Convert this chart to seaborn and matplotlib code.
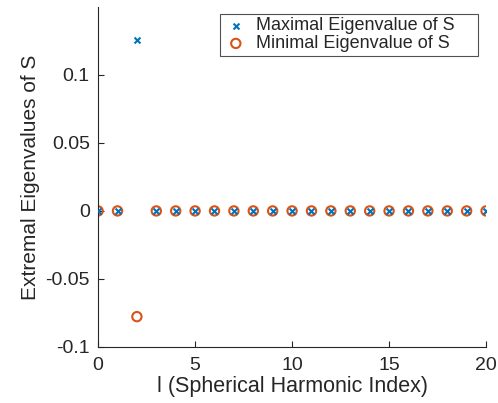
import numpy as np
import pandas as pd
import matplotlib
matplotlib.use("Agg")
import matplotlib.pyplot as plt
import seaborn as sns

l_index = list(range(21))
max_eig = [0, 0, 0.126] + [0] * 18
min_eig = [0, 0, -0.0777] + [0] * 18

sns.set_theme(style="ticks")
plt.rcParams['font.family'] = ['Liberation Sans', 'DejaVu Sans']
plt.rcParams['xtick.direction'] = 'in'
plt.rcParams['ytick.direction'] = 'in'

df = pd.DataFrame({'l': l_index, 'max': max_eig, 'min': min_eig})

fig = plt.figure(figsize=(4.98, 4.03), dpi=100)
ax = fig.add_axes([0.197, 0.139, 0.779, 0.844])

sns.scatterplot(data=df, x='l', y='max', marker='x', color='#0072BD', s=18,
                linewidth=1.5, ax=ax, label='Maximal Eigenvalue of S    ', zorder=3)
sns.scatterplot(data=df, x='l', y='min', marker='o', facecolor='none',
                edgecolor='#D95319', s=45, linewidth=1.5, ax=ax,
                label='Minimal Eigenvalue of S    ', zorder=2)

ax.set_xlim(0, 20)
ax.set_ylim(-0.1, 0.15)
ax.set_xticks([0, 5, 10, 15, 20])
ax.set_yticks([-0.1, -0.05, 0, 0.05, 0.1])
ax.set_yticklabels(['-0.1', '-0.05', '0', '0.05', '0.1'])
ax.tick_params(labelsize=14, colors='#262626', length=4, width=0.8)
ax.tick_params(axis='x', pad=7)
ax.tick_params(axis='y', pad=6)
for side in ['top', 'right']:
    ax.spines[side].set_visible(False)
for side in ['left', 'bottom']:
    ax.spines[side].set_color('#262626')
    ax.spines[side].set_linewidth(0.8)

ax.set_xlabel('l (Spherical Harmonic Index)', fontsize=15.5, color='#262626', labelpad=2)
ax.set_ylabel('Extremal Eigenvalues of S', fontsize=15, color='#262626', labelpad=4)

leg = ax.legend(loc='upper right', bbox_to_anchor=(0.979, 0.98), borderaxespad=0,
                fontsize=13, frameon=True, fancybox=False, handletextpad=0.4,
                borderpad=0.2, labelspacing=0.05, handlelength=1.4)
leg.get_frame().set_edgecolor('#262626')
leg.get_frame().set_linewidth(0.8)

fig.savefig('out.png', dpi=100)
